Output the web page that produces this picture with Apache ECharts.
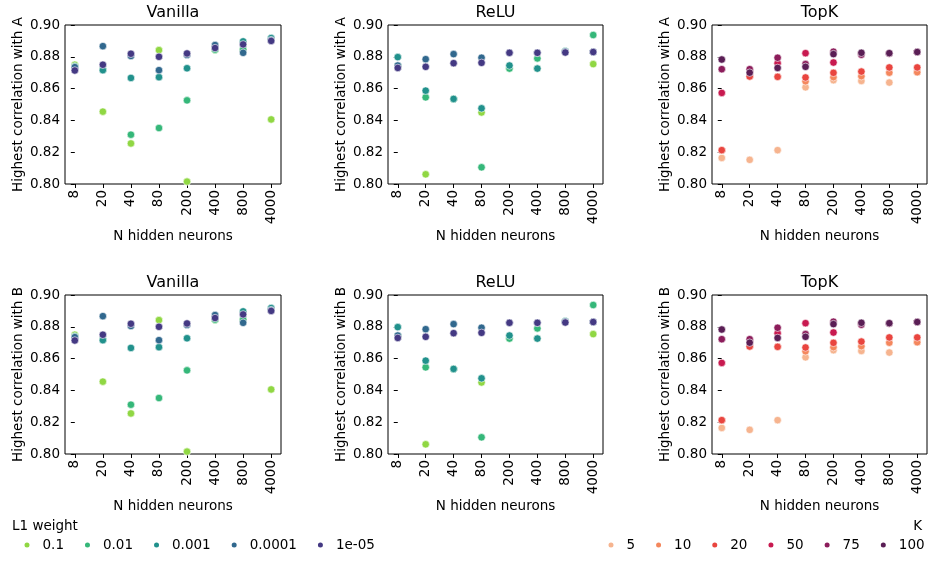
<!DOCTYPE html>
<html lang="en">
<head>
    <meta charset="UTF-8">
    <title>Highest correlation</title>
    <style>
        body { margin: 0; background: #fff; }
        #main { width: 934px; height: 565px; }
    </style>
</head>
<body>
<div id="main"></div>
<script src="https://cdn.jsdelivr.net/npm/echarts@6/dist/echarts.min.js"></script>
<script>
    // x categories
    var sizes = ['8', '20', '40', '80', '200', '400', '800', '4000'];

    // L1 weight levels (Vanilla / ReLU panels)
    var l1Names = ['0.1', '0.01', '0.001', '0.0001', '1e-05'];
    var l1Colors = ['#90d743', '#35b779', '#21918c', '#31688e', '#443983'];

    var vanilla_01 = [0.875, 0.8455, 0.8255, 0.8842, 0.8015, 0.8842, 0.8843, 0.8406];
    var vanilla_001 = [0.874, 0.872, 0.831, 0.8352, 0.8526, 0.8845, 0.8846, 0.891];
    var vanilla_0001 = [0.873, 0.8716, 0.8667, 0.8672, 0.8728, 0.886, 0.8897, 0.8918];
    var vanilla_00001 = [0.8735, 0.8867, 0.8805, 0.8716, 0.8812, 0.8874, 0.8825, 0.8905];
    var vanilla_1e5 = [0.8714, 0.875, 0.8819, 0.880, 0.8821, 0.8855, 0.8878, 0.890];

    var relu_01 = [0.874, 0.8061, 0.8535, 0.845, 0.8726, 0.8726, 0.883, 0.8754];
    var relu_001 = [0.8743, 0.8545, 0.8535, 0.8105, 0.8726, 0.879, 0.8835, 0.8937];
    var relu_0001 = [0.8798, 0.8587, 0.8535, 0.8476, 0.8745, 0.8726, 0.8835, 0.883];
    var relu_00001 = [0.8745, 0.8785, 0.8817, 0.8794, 0.8825, 0.8825, 0.8832, 0.883];
    var relu_1e5 = [0.873, 0.8737, 0.876, 0.8762, 0.8825, 0.8825, 0.8827, 0.883];

    // K levels (TopK panels)
    var kNames = ['5', '10', '20', '50', '75', '100'];
    var kColors = ['#f6b48f', '#f4875d', '#e9453f', '#c81a50', '#8c1d5b', '#5a1e55'];

    var topk_5 = [0.8164, 0.8152, 0.8213, 0.8608, 0.8653, 0.8648, 0.8638, 0.8703];
    var topk_10 = [0.8213, 0.8676, 0.8674, 0.8646, 0.8672, 0.8678, 0.870, 0.8703];
    var topk_20 = [0.8213, 0.8676, 0.8674, 0.867, 0.8699, 0.8707, 0.8733, 0.8733];
    var topk_50 = [0.8573, 0.871, 0.876, 0.8823, 0.8764, 0.882, 0.882, 0.883];
    var topk_75 = [0.8722, 0.8722, 0.8794, 0.8754, 0.8832, 0.8813, 0.882, 0.883];
    var topk_100 = [0.8783, 0.870, 0.873, 0.8737, 0.8817, 0.8825, 0.8823, 0.883];

    var vanilla = [vanilla_01, vanilla_001, vanilla_0001, vanilla_00001, vanilla_1e5];
    var relu = [relu_01, relu_001, relu_0001, relu_00001, relu_1e5];
    var topk = [topk_5, topk_10, topk_20, topk_50, topk_75, topk_100];

    var FONT = 'DejaVu Sans';
    var lefts = [65, 388, 712];
    var widths = [216, 215, 215];
    var tops = [25, 295];
    var H = 159;

    var panels = [
        {title: 'Vanilla', sets: vanilla, names: l1Names, colors: l1Colors},
        {title: 'ReLU', sets: relu, names: l1Names, colors: l1Colors},
        {title: 'TopK', sets: topk, names: kNames, colors: kColors}
    ];

    var grids = [], xAxes = [], yAxes = [], series = [], graphics = [];
    var tickIdx = sizes.map(function (s, i) { return i; });

    [0, 1].forEach(function (row) {
        panels.forEach(function (p, col) {
            var gi = grids.length;
            grids.push({
                left: lefts[col], top: tops[row], width: widths[col], height: H,
                show: true, borderColor: '#000', borderWidth: 1, backgroundColor: 'transparent'
            });
            xAxes.push({
                type: 'value', gridIndex: gi, min: -0.35, max: 7.35,
                name: 'N hidden neurons', nameLocation: 'middle', nameGap: 45,
                nameTextStyle: {fontFamily: FONT, fontSize: 13.5, color: '#000'},
                axisLine: {show: false},
                splitLine: {show: false},
                axisTick: {show: true, length: 4, customValues: tickIdx, lineStyle: {color: '#000'}},
                axisLabel: {
                    customValues: tickIdx, rotate: 90, margin: 6,
                    fontFamily: FONT, fontSize: 13.5, color: '#000',
                    formatter: function (v) { return sizes[Math.round(v)]; }
                }
            });
            yAxes.push({
                type: 'value', gridIndex: gi, min: 0.8, max: 0.9, interval: 0.02,
                name: 'Highest correlation with ' + (row === 0 ? 'A' : 'B'),
                nameLocation: 'middle', nameGap: 40,
                nameTextStyle: {fontFamily: FONT, fontSize: 13.5, color: '#000'},
                axisLine: {show: false},
                splitLine: {show: false},
                axisTick: {show: true, length: 4, lineStyle: {color: '#000'}},
                axisLabel: {
                    margin: 5, fontFamily: FONT, fontSize: 13.5, color: '#000',
                    formatter: function (v) { return v.toFixed(2); }
                }
            });
            p.sets.forEach(function (vals, k) {
                series.push({
                    name: p.names[k],
                    type: 'scatter',
                    xAxisIndex: gi, yAxisIndex: gi,
                    symbolSize: 7.5,
                    itemStyle: {color: p.colors[k], borderColor: '#fff', borderWidth: 0.6, opacity: 1},
                    emphasis: {disabled: true},
                    data: vals.map(function (v, i) { return [i, v]; })
                });
            });
            graphics.push({
                type: 'text', x: lefts[col] + widths[col] / 2, y: tops[row] - 12,
                style: {text: p.title, font: '16px "DejaVu Sans"', fill: '#000', align: 'center', verticalAlign: 'middle'}
            });
        });
    });

    graphics.push({
        type: 'text', x: 12, y: 526,
        style: {text: 'L1 weight', font: '13.5px "DejaVu Sans"', fill: '#000', align: 'left', verticalAlign: 'middle'}
    });
    graphics.push({
        type: 'text', x: 922, y: 526,
        style: {text: 'K', font: '13.5px "DejaVu Sans"', fill: '#000', align: 'right', verticalAlign: 'middle'}
    });

    var legendCommon = {
        icon: 'circle', itemWidth: 7, itemHeight: 7, itemGap: 19,
        top: 538, padding: 0, selectedMode: false,
        textStyle: {fontFamily: FONT, fontSize: 13.5, color: '#000', padding: [0, 0, 0, 7]}
    };

    var chart = echarts.init(document.getElementById('main'));
    chart.setOption({
        animation: false,
        textStyle: {fontFamily: FONT},
        grid: grids,
        xAxis: xAxes,
        yAxis: yAxes,
        legend: [
            Object.assign({}, legendCommon, {left: 22.5, width: 420, data: l1Names}),
            Object.assign({}, legendCommon, {left: 606.5, width: 327, data: kNames})
        ],
        graphic: graphics,
        series: series
    });
</script>
</body>
</html>
